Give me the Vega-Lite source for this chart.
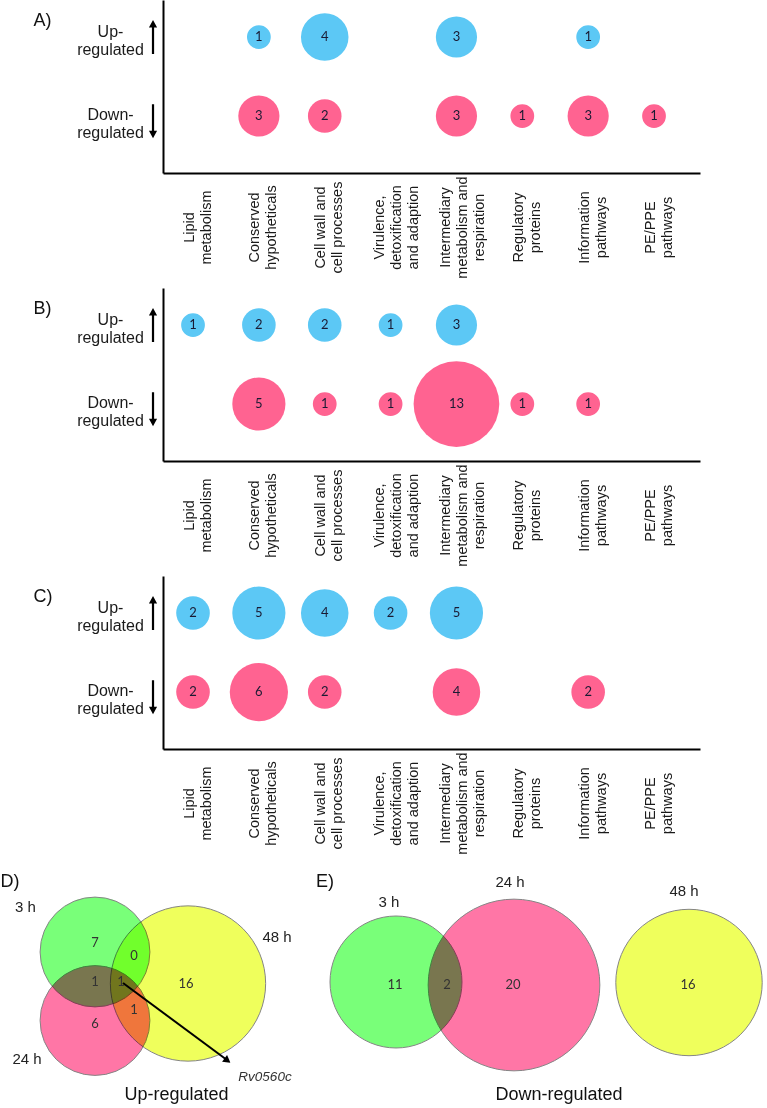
{
  "$schema": "https://vega.github.io/schema/vega-lite/v6.json",
  "padding": 0,
  "background": "white",
  "spacing": 9,
  "datasets": {
    "bubbles": [
      {"panel": "A", "direction": "Up-regulated", "category": "Conserved hypotheticals", "count": 1},
      {"panel": "A", "direction": "Up-regulated", "category": "Cell wall and cell processes", "count": 4},
      {"panel": "A", "direction": "Up-regulated", "category": "Intermediary metabolism and respiration", "count": 3},
      {"panel": "A", "direction": "Up-regulated", "category": "Information pathways", "count": 1},
      {"panel": "A", "direction": "Down-regulated", "category": "Conserved hypotheticals", "count": 3},
      {"panel": "A", "direction": "Down-regulated", "category": "Cell wall and cell processes", "count": 2},
      {"panel": "A", "direction": "Down-regulated", "category": "Intermediary metabolism and respiration", "count": 3},
      {"panel": "A", "direction": "Down-regulated", "category": "Regulatory proteins", "count": 1},
      {"panel": "A", "direction": "Down-regulated", "category": "Information pathways", "count": 3},
      {"panel": "A", "direction": "Down-regulated", "category": "PE/PPE pathways", "count": 1},
      {"panel": "B", "direction": "Up-regulated", "category": "Lipid metabolism", "count": 1},
      {"panel": "B", "direction": "Up-regulated", "category": "Conserved hypotheticals", "count": 2},
      {"panel": "B", "direction": "Up-regulated", "category": "Cell wall and cell processes", "count": 2},
      {"panel": "B", "direction": "Up-regulated", "category": "Virulence, detoxification and adaption", "count": 1},
      {"panel": "B", "direction": "Up-regulated", "category": "Intermediary metabolism and respiration", "count": 3},
      {"panel": "B", "direction": "Down-regulated", "category": "Conserved hypotheticals", "count": 5},
      {"panel": "B", "direction": "Down-regulated", "category": "Cell wall and cell processes", "count": 1},
      {"panel": "B", "direction": "Down-regulated", "category": "Virulence, detoxification and adaption", "count": 1},
      {"panel": "B", "direction": "Down-regulated", "category": "Intermediary metabolism and respiration", "count": 13},
      {"panel": "B", "direction": "Down-regulated", "category": "Regulatory proteins", "count": 1},
      {"panel": "B", "direction": "Down-regulated", "category": "Information pathways", "count": 1},
      {"panel": "C", "direction": "Up-regulated", "category": "Lipid metabolism", "count": 2},
      {"panel": "C", "direction": "Up-regulated", "category": "Conserved hypotheticals", "count": 5},
      {"panel": "C", "direction": "Up-regulated", "category": "Cell wall and cell processes", "count": 4},
      {"panel": "C", "direction": "Up-regulated", "category": "Virulence, detoxification and adaption", "count": 2},
      {"panel": "C", "direction": "Up-regulated", "category": "Intermediary metabolism and respiration", "count": 5},
      {"panel": "C", "direction": "Down-regulated", "category": "Lipid metabolism", "count": 2},
      {"panel": "C", "direction": "Down-regulated", "category": "Conserved hypotheticals", "count": 6},
      {"panel": "C", "direction": "Down-regulated", "category": "Cell wall and cell processes", "count": 2},
      {"panel": "C", "direction": "Down-regulated", "category": "Intermediary metabolism and respiration", "count": 4},
      {"panel": "C", "direction": "Down-regulated", "category": "Information pathways", "count": 2}
    ],
    "rows": [
      {"direction": "Up-regulated"},
      {"direction": "Down-regulated"}
    ],
    "venn_sets": [
      {"panel": "D", "set": "3 h", "count": 9, "cx": 9.5, "cy": 95.3},
      {"panel": "D", "set": "24 h", "count": 9, "cx": 9.5, "cy": 102.15},
      {"panel": "D", "set": "48 h", "count": 18, "cx": 18.8, "cy": 98.45},
      {"panel": "E", "set": "3 h", "count": 13, "cx": 39.6, "cy": 98.3},
      {"panel": "E", "set": "24 h", "count": 22, "cx": 51.4, "cy": 98.6},
      {"panel": "E", "set": "48 h", "count": 16, "cx": 68.9, "cy": 98.35}
    ],
    "venn_regions": [
      {"panel": "D", "region": "3 h only", "n": "7", "x": 9.5, "y": 94.4},
      {"panel": "D", "region": "3 h and 48 h", "n": "0", "x": 13.4, "y": 95.7},
      {"panel": "D", "region": "3 h and 24 h", "n": "1", "x": 9.5, "y": 98.3},
      {"panel": "D", "region": "all", "n": "1", "x": 12.1, "y": 98.3},
      {"panel": "D", "region": "48 h only", "n": "16", "x": 18.6, "y": 98.5},
      {"panel": "D", "region": "24 h only", "n": "6", "x": 9.5, "y": 102.5},
      {"panel": "D", "region": "24 h and 48 h", "n": "1", "x": 13.4, "y": 101.1},
      {"panel": "E", "region": "3 h only", "n": "11", "x": 39.5, "y": 98.6},
      {"panel": "E", "region": "3 h and 24 h", "n": "2", "x": 44.7, "y": 98.6},
      {"panel": "E", "region": "24 h only", "n": "20", "x": 51.3, "y": 98.6},
      {"panel": "E", "region": "48 h only", "n": "16", "x": 68.8, "y": 98.6}
    ],
    "venn_labels": [
      {"text": "3 h", "x": 2.55, "y": 90.8},
      {"text": "48 h", "x": 27.7, "y": 93.8},
      {"text": "24 h", "x": 2.7, "y": 106.0},
      {"text": "3 h", "x": 38.9, "y": 90.3},
      {"text": "24 h", "x": 51.0, "y": 88.3},
      {"text": "48 h", "x": 68.4, "y": 89.2}
    ],
    "venn_titles": [
      {"text": "D)", "x": 1.0, "y": 88.3},
      {"text": "E)", "x": 32.5, "y": 88.3},
      {"text": "Up-regulated", "x": 17.65, "y": 109.6},
      {"text": "Down-regulated", "x": 55.9, "y": 109.6}
    ],
    "venn_gene": [
      {"text": "Rv0560c", "x": 26.5, "y": 107.8}
    ],
    "venn_arrow": [
      {"x": 12.3, "y": 98.4, "x2": 22.7, "y2": 106.1, "hx": 22.75, "hy": 106.15}
    ]
  },
  "vconcat": [
    {
      "width": 537,
      "height": 173,
      "layer": [
        {
          "data": {"name": "bubbles"},
          "transform": [{"filter": "datum.panel == 'A'"}],
          "mark": {"type": "circle", "opacity": 1},
          "encoding": {
            "x": {"field": "category", "type": "nominal", "scale": {"type": "point", "domain": ["Lipid metabolism", "Conserved hypotheticals", "Cell wall and cell processes", "Virulence, detoxification and adaption", "Intermediary metabolism and respiration", "Regulatory proteins", "Information pathways", "PE/PPE pathways"], "padding": 0.577, "align": 0.395}, "axis": {"title": null, "labelOffset": {"condition": {"test": "datum.value == 'Virulence, detoxification and adaption' || datum.value == 'Intermediary metabolism and respiration'", "value": -11}, "value": -4}}},
            "y": {"field": "direction", "type": "nominal", "scale": {"type": "point", "domain": ["Up-regulated", "Down-regulated"], "padding": 0.595, "align": 0.394}, "axis": {"title": "A)", "labelOffset": {"condition": {"test": "datum.value == 'Up-regulated'", "value": -6}, "value": -2}}},
            "size": {"field": "count", "type": "quantitative", "scale": {"domain": [0, 13], "range": [0, 7345]}, "legend": null},
            "color": {"field": "direction", "type": "nominal", "scale": {"domain": ["Up-regulated", "Down-regulated"], "range": ["#5CC8F5", "#FF6391"]}, "legend": null}
          }
        },
        {
          "data": {"name": "bubbles"},
          "transform": [{"filter": "datum.panel == 'A'"}],
          "mark": {"type": "text", "font": "Lato", "fontSize": 13, "color": "#1a1a33"},
          "encoding": {
            "x": {"field": "category", "type": "nominal", "scale": {"type": "point", "domain": ["Lipid metabolism", "Conserved hypotheticals", "Cell wall and cell processes", "Virulence, detoxification and adaption", "Intermediary metabolism and respiration", "Regulatory proteins", "Information pathways", "PE/PPE pathways"], "padding": 0.577, "align": 0.395}, "axis": null},
            "y": {"field": "direction", "type": "nominal"},
            "text": {"field": "count", "type": "quantitative"}
          }
        },
        {
          "data": {"name": "rows"},
          "mark": {"type": "point", "filled": true, "color": "black", "opacity": 1, "size": 1156, "strokeWidth": 0},
          "encoding": {
            "x": {"datum": -0.0186, "type": "quantitative", "scale": {"domain": [0, 1]}, "axis": null},
            "y": {"field": "direction", "type": "nominal"},
            "shape": {"field": "direction", "type": "nominal", "scale": {"domain": ["Up-regulated", "Down-regulated"], "range": ["M-0.065,1L-0.065,-0.56L-0.24,-0.56L0,-1L0.24,-0.56L0.065,-0.56L0.065,1Z", "M-0.065,-0.7L-0.065,0.86L-0.24,0.86L0,1.3L0.24,0.86L0.065,0.86L0.065,-0.7Z"]}, "legend": null}
          }
        }
      ],
      "resolve": {"scale": {"x": "independent"}, "axis": {"x": "independent"}}
    },
    {
      "width": 537,
      "height": 173,
      "layer": [
        {
          "data": {"name": "bubbles"},
          "transform": [{"filter": "datum.panel == 'B'"}],
          "mark": {"type": "circle", "opacity": 1},
          "encoding": {
            "x": {"field": "category", "type": "nominal", "scale": {"type": "point", "domain": ["Lipid metabolism", "Conserved hypotheticals", "Cell wall and cell processes", "Virulence, detoxification and adaption", "Intermediary metabolism and respiration", "Regulatory proteins", "Information pathways", "PE/PPE pathways"], "padding": 0.577, "align": 0.395}, "axis": {"title": null, "labelOffset": {"condition": {"test": "datum.value == 'Virulence, detoxification and adaption' || datum.value == 'Intermediary metabolism and respiration'", "value": -11}, "value": -4}}},
            "y": {"field": "direction", "type": "nominal", "scale": {"type": "point", "domain": ["Up-regulated", "Down-regulated"], "padding": 0.595, "align": 0.394}, "axis": {"title": "B)", "labelOffset": {"condition": {"test": "datum.value == 'Up-regulated'", "value": -6}, "value": -2}}},
            "size": {"field": "count", "type": "quantitative", "scale": {"domain": [0, 13], "range": [0, 7345]}, "legend": null},
            "color": {"field": "direction", "type": "nominal", "scale": {"domain": ["Up-regulated", "Down-regulated"], "range": ["#5CC8F5", "#FF6391"]}, "legend": null}
          }
        },
        {
          "data": {"name": "bubbles"},
          "transform": [{"filter": "datum.panel == 'B'"}],
          "mark": {"type": "text", "font": "Lato", "fontSize": 13, "color": "#1a1a33"},
          "encoding": {
            "x": {"field": "category", "type": "nominal", "scale": {"type": "point", "domain": ["Lipid metabolism", "Conserved hypotheticals", "Cell wall and cell processes", "Virulence, detoxification and adaption", "Intermediary metabolism and respiration", "Regulatory proteins", "Information pathways", "PE/PPE pathways"], "padding": 0.577, "align": 0.395}, "axis": null},
            "y": {"field": "direction", "type": "nominal"},
            "text": {"field": "count", "type": "quantitative"}
          }
        },
        {
          "data": {"name": "rows"},
          "mark": {"type": "point", "filled": true, "color": "black", "opacity": 1, "size": 1156, "strokeWidth": 0},
          "encoding": {
            "x": {"datum": -0.0186, "type": "quantitative", "scale": {"domain": [0, 1]}, "axis": null},
            "y": {"field": "direction", "type": "nominal"},
            "shape": {"field": "direction", "type": "nominal", "scale": {"domain": ["Up-regulated", "Down-regulated"], "range": ["M-0.065,1L-0.065,-0.56L-0.24,-0.56L0,-1L0.24,-0.56L0.065,-0.56L0.065,1Z", "M-0.065,-0.7L-0.065,0.86L-0.24,0.86L0,1.3L0.24,0.86L0.065,0.86L0.065,-0.7Z"]}, "legend": null}
          }
        }
      ],
      "resolve": {"scale": {"x": "independent"}, "axis": {"x": "independent"}}
    },
    {
      "width": 537,
      "height": 173,
      "layer": [
        {
          "data": {"name": "bubbles"},
          "transform": [{"filter": "datum.panel == 'C'"}],
          "mark": {"type": "circle", "opacity": 1},
          "encoding": {
            "x": {"field": "category", "type": "nominal", "scale": {"type": "point", "domain": ["Lipid metabolism", "Conserved hypotheticals", "Cell wall and cell processes", "Virulence, detoxification and adaption", "Intermediary metabolism and respiration", "Regulatory proteins", "Information pathways", "PE/PPE pathways"], "padding": 0.577, "align": 0.395}, "axis": {"title": null, "labelOffset": {"condition": {"test": "datum.value == 'Virulence, detoxification and adaption' || datum.value == 'Intermediary metabolism and respiration'", "value": -11}, "value": -4}}},
            "y": {"field": "direction", "type": "nominal", "scale": {"type": "point", "domain": ["Up-regulated", "Down-regulated"], "padding": 0.595, "align": 0.394}, "axis": {"title": "C)", "labelOffset": {"condition": {"test": "datum.value == 'Up-regulated'", "value": -6}, "value": -2}}},
            "size": {"field": "count", "type": "quantitative", "scale": {"domain": [0, 13], "range": [0, 7345]}, "legend": null},
            "color": {"field": "direction", "type": "nominal", "scale": {"domain": ["Up-regulated", "Down-regulated"], "range": ["#5CC8F5", "#FF6391"]}, "legend": null}
          }
        },
        {
          "data": {"name": "bubbles"},
          "transform": [{"filter": "datum.panel == 'C'"}],
          "mark": {"type": "text", "font": "Lato", "fontSize": 13, "color": "#1a1a33"},
          "encoding": {
            "x": {"field": "category", "type": "nominal", "scale": {"type": "point", "domain": ["Lipid metabolism", "Conserved hypotheticals", "Cell wall and cell processes", "Virulence, detoxification and adaption", "Intermediary metabolism and respiration", "Regulatory proteins", "Information pathways", "PE/PPE pathways"], "padding": 0.577, "align": 0.395}, "axis": null},
            "y": {"field": "direction", "type": "nominal"},
            "text": {"field": "count", "type": "quantitative"}
          }
        },
        {
          "data": {"name": "rows"},
          "mark": {"type": "point", "filled": true, "color": "black", "opacity": 1, "size": 1156, "strokeWidth": 0},
          "encoding": {
            "x": {"datum": -0.0186, "type": "quantitative", "scale": {"domain": [0, 1]}, "axis": null},
            "y": {"field": "direction", "type": "nominal"},
            "shape": {"field": "direction", "type": "nominal", "scale": {"domain": ["Up-regulated", "Down-regulated"], "range": ["M-0.065,1L-0.065,-0.56L-0.24,-0.56L0,-1L0.24,-0.56L0.065,-0.56L0.065,1Z", "M-0.065,-0.7L-0.065,0.86L-0.24,0.86L0,1.3L0.24,0.86L0.065,0.86L0.065,-0.7Z"]}, "legend": null}
          }
        }
      ],
      "resolve": {"scale": {"x": "independent"}, "axis": {"x": "independent"}}
    },
    {
      "width": 604,
      "height": 243,
      "layer": [
        {
          "data": {"name": "venn_sets"},
          "mark": {"type": "circle", "opacity": 0.92, "blend": "multiply", "stroke": "#7a7a7a", "strokeWidth": 1},
          "encoding": {
            "x": {"field": "cx", "type": "quantitative", "scale": {"domain": [16.3, 76.7], "nice": false, "zero": false}, "axis": null},
            "y": {"field": "cy", "type": "quantitative", "scale": {"domain": [86.5, 110.8], "nice": false, "zero": false, "reverse": true}, "axis": null},
            "size": {"field": "count", "type": "quantitative", "scale": {"domain": [0, 22], "range": [0, 29480]}, "legend": null},
            "color": {"field": "set", "type": "nominal", "scale": {"domain": ["3 h", "24 h", "48 h"], "range": ["#6EFF6E", "#FF6A9E", "#EEFF4E"]}, "legend": null}
          }
        },
        {
          "data": {"name": "venn_regions"},
          "mark": {"type": "text", "font": "Lato", "fontSize": 13, "color": "#333333"},
          "encoding": {
            "x": {"field": "x", "type": "quantitative"},
            "y": {"field": "y", "type": "quantitative"},
            "text": {"field": "n", "type": "nominal"}
          }
        },
        {
          "data": {"name": "venn_labels"},
          "mark": {"type": "text", "font": "Liberation Sans", "fontSize": 15, "color": "#222222"},
          "encoding": {
            "x": {"field": "x", "type": "quantitative"},
            "y": {"field": "y", "type": "quantitative"},
            "text": {"field": "text", "type": "nominal"}
          }
        },
        {
          "data": {"name": "venn_titles"},
          "mark": {"type": "text", "font": "Liberation Sans", "fontSize": 18, "color": "#111111"},
          "encoding": {
            "x": {"field": "x", "type": "quantitative"},
            "y": {"field": "y", "type": "quantitative"},
            "text": {"field": "text", "type": "nominal"}
          }
        },
        {
          "data": {"name": "venn_gene"},
          "mark": {"type": "text", "font": "Liberation Sans", "fontSize": 13.5, "fontStyle": "italic", "color": "#333333"},
          "encoding": {
            "x": {"field": "x", "type": "quantitative"},
            "y": {"field": "y", "type": "quantitative"},
            "text": {"field": "text", "type": "nominal"}
          }
        },
        {
          "data": {"name": "venn_arrow"},
          "mark": {"type": "rule", "color": "black", "strokeWidth": 2},
          "encoding": {
            "x": {"field": "x", "type": "quantitative"},
            "y": {"field": "y", "type": "quantitative"},
            "x2": {"field": "x2"},
            "y2": {"field": "y2"}
          }
        },
        {
          "data": {"name": "venn_arrow"},
          "mark": {"type": "point", "shape": "triangle-right", "filled": true, "color": "black", "opacity": 1, "size": 70, "angle": 36.4},
          "encoding": {
            "x": {"field": "hx", "type": "quantitative"},
            "y": {"field": "hy", "type": "quantitative"}
          }
        }
      ]
    }
  ],
  "resolve": {"scale": {"size": "independent", "color": "independent", "shape": "independent"}},
  "config": {
    "view": {"stroke": null},
    "axisX": {
      "domainColor": "#000000", "domainWidth": 2, "ticks": false, "grid": false,
      "labelFont": "Liberation Sans", "labelFontSize": 14.5, "labelColor": "#1a1a1a",
      "labelAngle": -90, "labelAlign": "center", "labelBaseline": "middle",
      "labelPadding": 54, "labelLineHeight": 17, "labelOverlap": false, "labelLimit": 300,
      "labelExpr": "{'Lipid metabolism':['Lipid','metabolism'],'Conserved hypotheticals':['Conserved','hypotheticals'],'Cell wall and cell processes':['Cell wall and','cell processes'],'Virulence, detoxification and adaption':['Virulence,','detoxification','and adaption'],'Intermediary metabolism and respiration':['Intermediary','metabolism and','respiration'],'Regulatory proteins':['Regulatory','proteins'],'Information pathways':['Information','pathways'],'PE/PPE pathways':['PE/PPE','pathways']}[datum.label]"
    },
    "axisY": {
      "domainColor": "#000000", "domainWidth": 2, "ticks": false, "grid": false,
      "labelFont": "Liberation Sans", "labelFontSize": 16, "labelColor": "#1a1a1a",
      "labelAlign": "center", "labelBaseline": "middle", "labelPadding": 53, "labelLineHeight": 18,
      "labelExpr": "[split(datum.label, '-')[0] + '-', split(datum.label, '-')[1]]",
      "titleAngle": 0, "titleX": -130, "titleY": 20, "titleAlign": "left", "titleBaseline": "middle",
      "titleFont": "Liberation Sans", "titleFontSize": 18, "titleFontWeight": "normal", "titleColor": "#111111"
    }
  }
}
